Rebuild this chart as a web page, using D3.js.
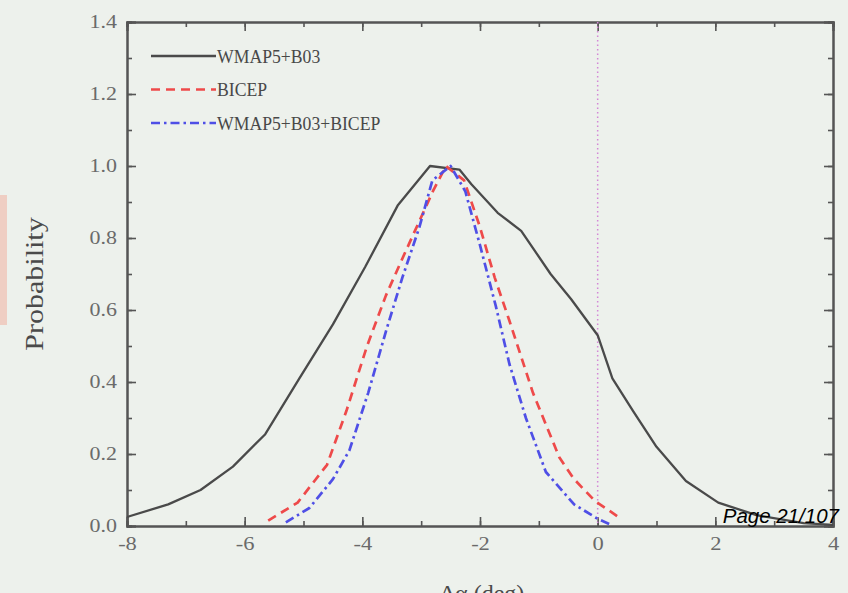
<!DOCTYPE html>
<html>
<head>
<meta charset="utf-8">
<script src="https://cdn.jsdelivr.net/npm/d3@7"></script>
<style>
  body { margin: 0; background: #edf1ec; overflow: hidden; }
  svg { display: block; }
</style>
</head>
<body>
<svg id="chart" width="848" height="593"></svg>
<script>
// values (x = delta alpha in deg, y = probability)
var wmapX = [-8, -7.3, -6.75, -6.2, -5.65, -5.07, -4.5, -3.95, -3.4, -2.85, -2.35, -2.15, -1.7, -1.3, -0.8, -0.45, 0, 0.25, 0.6, 1.0, 1.5, 2.05, 2.7, 3.5, 4.0];
var wmapY = [0.025, 0.06, 0.10, 0.165, 0.255, 0.41, 0.56, 0.72, 0.89, 1.0, 0.99, 0.95, 0.87, 0.82, 0.70, 0.63, 0.53, 0.41, 0.32, 0.22, 0.125, 0.065, 0.03, 0.008, 0.003];

var bicepX = [-5.6, -5.1, -4.6, -4.27, -3.92, -3.6, -3.3, -3.05, -2.8, -2.58, -2.27, -2.0, -1.75, -1.5, -1.1, -0.65, -0.4, -0.05, 0.4];
var bicepY = [0.015, 0.065, 0.17, 0.32, 0.50, 0.64, 0.75, 0.84, 0.93, 1.0, 0.96, 0.83, 0.69, 0.57, 0.37, 0.19, 0.13, 0.07, 0.02];

var combX = [-5.3, -4.9, -4.5, -4.22, -3.9, -3.6, -3.32, -3.03, -2.81, -2.5, -2.25, -2.0, -1.73, -1.5, -1.22, -0.88, -0.4, 0, 0.2];
var combY = [0.01, 0.05, 0.13, 0.21, 0.37, 0.54, 0.69, 0.83, 0.96, 1.0, 0.93, 0.78, 0.61, 0.45, 0.30, 0.15, 0.06, 0.02, 0.005];

var legendNames = ["WMAP5+B03", "BICEP", "WMAP5+B03+BICEP"];
var xMajor = [-8, -6, -4, -2, 0, 2, 4];
var yMajor = [0.0, 0.2, 0.4, 0.6, 0.8, 1.0, 1.2, 1.4];

var margin = {top: 22, right: 15, bottom: 67, left: 127},
    width = 848 - margin.left - margin.right,
    height = 593 - margin.top - margin.bottom;

var axisColor = "#555";
var serif = "'Liberation Serif', 'Times New Roman', serif";
var svg = d3.select("#chart");

// faint red smear at the left edge of the photo
svg.append("rect")
  .attr("x", 0).attr("y", 195).attr("width", 7).attr("height", 130)
  .attr("fill", "#f39a86").attr("opacity", 0.4);

var g = svg.append("g").attr("transform", "translate(" + margin.left + "," + margin.top + ")");

var x = d3.scaleLinear().domain([-8, 4]).range([0, width]);
var y = d3.scaleLinear().domain([0, 1.4]).range([height, 0]);

function stretch(sel, k) {
  sel.each(function() {
    var w = this.getComputedTextLength();
    d3.select(this).attr("textLength", w * k).attr("lengthAdjust", "spacingAndGlyphs");
  });
}

function styleAxis(a) {
  a.selectAll("path.domain").attr("stroke", axisColor).attr("stroke-width", 2);
  a.selectAll(".tick line").attr("stroke", axisColor).attr("stroke-width", 1.6);
  a.selectAll("text").attr("fill", "#6a6a6a")
    .style("font-family", serif)
    .style("font-size", "18px");
}

// hyphen minus like the original plot, not the unicode minus
var fmtX = function(d) { return String(d); };

// minor ticks
var minorX = d3.range(-8, 4.01, 1);
var minorY = d3.range(0, 1.401, 0.1);
g.append("g").attr("transform", "translate(0," + height + ")")
  .call(d3.axisBottom(x).tickValues(minorX).tickSize(-5).tickFormat(""))
  .call(styleAxis);
g.append("g")
  .call(d3.axisTop(x).tickValues(minorX).tickSize(-5).tickFormat(""))
  .call(styleAxis);
g.append("g")
  .call(d3.axisLeft(y).tickValues(minorY).tickSize(-5).tickFormat(""))
  .call(styleAxis);
g.append("g").attr("transform", "translate(" + width + ",0)")
  .call(d3.axisRight(y).tickValues(minorY).tickSize(-5).tickFormat(""))
  .call(styleAxis);

// major ticks
var xAxis = g.append("g").attr("transform", "translate(0," + height + ")")
  .call(d3.axisBottom(x).tickValues(xMajor).tickSize(-9).tickPadding(11).tickFormat(fmtX))
  .call(styleAxis);
var yAxis = g.append("g")
  .call(d3.axisLeft(y).tickValues(yMajor).tickSize(-9).tickPadding(10).tickFormat(d3.format(".1f")))
  .call(styleAxis);
g.append("g")
  .call(d3.axisTop(x).tickValues(xMajor).tickSize(-9).tickFormat(""))
  .call(styleAxis);
g.append("g").attr("transform", "translate(" + width + ",0)")
  .call(d3.axisRight(y).tickValues(yMajor).tickSize(-9).tickFormat(""))
  .call(styleAxis);

xAxis.selectAll("text").call(stretch, 1.25);
yAxis.selectAll("text").call(stretch, 1.22);

// vertical dotted line at zero
g.append("line")
  .attr("x1", x(0)).attr("x2", x(0))
  .attr("y1", 0).attr("y2", height)
  .attr("stroke", "#d488d6").attr("stroke-width", 1.5)
  .attr("stroke-dasharray", "1.5,3");

var line = d3.line()
  .x(function(d) { return x(d[0]); })
  .y(function(d) { return y(d[1]); });

var series = [
  {xs: wmapX, ys: wmapY, color: "#4a4a4a", width: 2.3, dash: null},
  {xs: bicepX, ys: bicepY, color: "#ee4a4a", width: 2.7, dash: "9,6"},
  {xs: combX, ys: combY, color: "#4f4fe6", width: 2.7, dash: "9,4,2.5,4"}
];

series.forEach(function(s) {
  var pts = d3.zip(s.xs, s.ys);
  g.append("path")
    .datum(pts)
    .attr("d", line)
    .attr("fill", "none")
    .attr("stroke", s.color)
    .attr("stroke-width", s.width)
    .attr("stroke-linejoin", "round")
    .attr("stroke-dasharray", s.dash);
});

// legend
var legend = svg.append("g");
series.forEach(function(s, i) {
  var ly = 56 + i * 33.5;
  legend.append("line")
    .attr("x1", 151).attr("x2", 216).attr("y1", ly).attr("y2", ly)
    .attr("stroke", s.color).attr("stroke-width", s.width)
    .attr("stroke-dasharray", s.dash);
  legend.append("text")
    .attr("x", 217).attr("y", ly + 6.5)
    .attr("fill", "#484848")
    .style("font-family", serif)
    .style("font-size", "19px")
    .text(legendNames[i])
    .call(stretch, 0.93);
});

// axis titles
svg.append("text")
  .attr("transform", "translate(43,284) rotate(-90)")
  .attr("text-anchor", "middle")
  .attr("fill", "#4a4a4a")
  .style("font-family", serif)
  .style("font-size", "25px")
  .text("Probability")
  .call(stretch, 1.2);

svg.append("text")
  .attr("x", 482).attr("y", 601)
  .attr("text-anchor", "middle")
  .attr("fill", "#4a4a4a")
  .style("font-family", serif)
  .style("font-size", "24px")
  .text("\u0394\u03b1 (deg)");

// page stamp of the slide capture
svg.append("text")
  .attr("x", 839).attr("y", 523)
  .attr("text-anchor", "end")
  .attr("fill", "#000")
  .style("font-family", "'Liberation Sans', Arial, sans-serif")
  .style("font-style", "italic")
  .style("font-size", "20.5px")
  .text("Page 21/107");
</script>
</body>
</html>
